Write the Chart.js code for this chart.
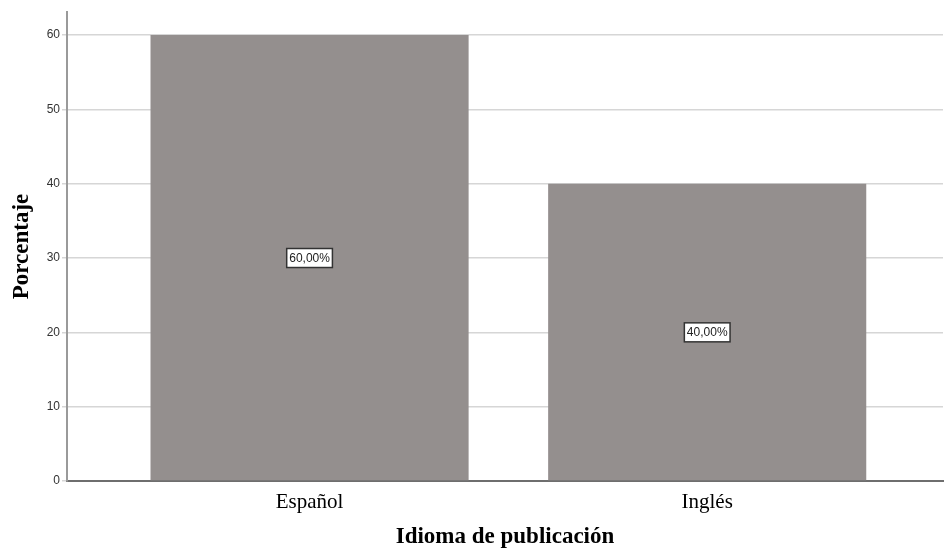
<!DOCTYPE html>
<html>
<head>
<meta charset="utf-8">
<script src="https://cdn.jsdelivr.net/npm/chart.js@4/dist/chart.umd.min.js"></script>
<style>
  body { margin: 0; background: #fff; }
  #wrap { width: 944px; height: 549px; }
</style>
</head>
<body>
<div id="wrap"><canvas id="mycanvas"></canvas></div>
<script>
var categories = ['Español', 'Inglés'];
var porcentajes = [60, 40];
var yTicks = [0, 10, 20, 30, 40, 50, 60];

// etiquetas de valor dentro de las barras
var barLabels = {
    id: 'barLabels',
    afterDatasetsDraw: function(chart){
        var ctx = chart.ctx;
        var yScale = chart.scales.y;
        var meta = chart.getDatasetMeta(0);
        ctx.save();
        ctx.font = '12px "Liberation Sans", Arial, sans-serif';
        ctx.textAlign = 'center';
        ctx.textBaseline = 'middle';
        meta.data.forEach(function(bar, i){
            var v = porcentajes[i];
            var txt = v.toFixed(2).replace('.', ',') + '%';
            var cx = bar.x;
            var cy = yScale.getPixelForValue(v / 2);
            var w = ctx.measureText(txt).width + 5;
            var h = 19;
            ctx.fillStyle = '#ffffff';
            ctx.fillRect(cx - w / 2, cy - h / 2, w, h);
            ctx.strokeStyle = '#333333';
            ctx.lineWidth = 1.5;
            ctx.strokeRect(cx - w / 2, cy - h / 2, w, h);
            ctx.fillStyle = '#222222';
            ctx.fillText(txt, cx, cy + 0.5);
        });
        ctx.restore();
    }
};

var chartdata = {
    datasets: [{
        label: 'Porcentaje',
        backgroundColor: '#948f8e',
        borderWidth: 0,
        barPercentage: 0.8,
        categoryPercentage: 1,
        data: categories.map(function(c, i){ return {x: i, y: porcentajes[i]}; })
    }]
};

var ctx = document.getElementById('mycanvas');
var barGraph = new Chart(ctx, {
    type: 'bar',
    data: chartdata,
    plugins: [barLabels],
    options: {
        responsive: true,
        maintainAspectRatio: false,
        animation: false,
        layout: { padding: { top: 12, right: 1, left: 0, bottom: 0 } },
        plugins: {
            legend: { display: false },
            tooltip: { enabled: false }
        },
        scales: {
            x: {
                type: 'linear',
                offset: false,
                min: -0.61,
                max: 1.593,
                afterBuildTicks: function(axis){
                    axis.ticks = categories.map(function(c, i){ return {value: i}; });
                },
                afterFit: function(axis){ axis.height = 68; },
                grid: { display: false, drawTicks: false, offset: false },
                border: { color: '#6e6e6e', width: 2 },
                ticks: {
                    color: '#000',
                    font: { family: '"Liberation Serif", "Times New Roman", serif', size: 21 },
                    padding: 9,
                    callback: function(v){ return categories[v]; }
                },
                title: {
                    display: true,
                    text: 'Idioma de publicación',
                    color: '#000',
                    font: { family: '"Liberation Serif", "Times New Roman", serif', size: 23, weight: 'bold', lineHeight: 1 },
                    padding: { top: 12, bottom: 0 }
                }
            },
            y: {
                min: 0,
                max: 63.1,
                afterBuildTicks: function(axis){
                    axis.ticks = yTicks.map(function(v){ return {value: v}; });
                },
                afterFit: function(axis){ axis.width = 67; },
                grid: { color: '#d6d6d6', lineWidth: 1.5, tickLength: 5 },
                border: { color: '#9a9a9a', width: 2 },
                ticks: {
                    color: '#333',
                    font: { family: '"Liberation Sans", Arial, sans-serif', size: 12 },
                    padding: 2
                },
                title: {
                    display: true,
                    text: 'Porcentaje',
                    color: '#000',
                    font: { family: '"Liberation Serif", "Times New Roman", serif', size: 23, weight: 'bold' },
                    padding: { top: 8, bottom: 8 }
                }
            }
        }
    }
});
</script>
</body>
</html>
